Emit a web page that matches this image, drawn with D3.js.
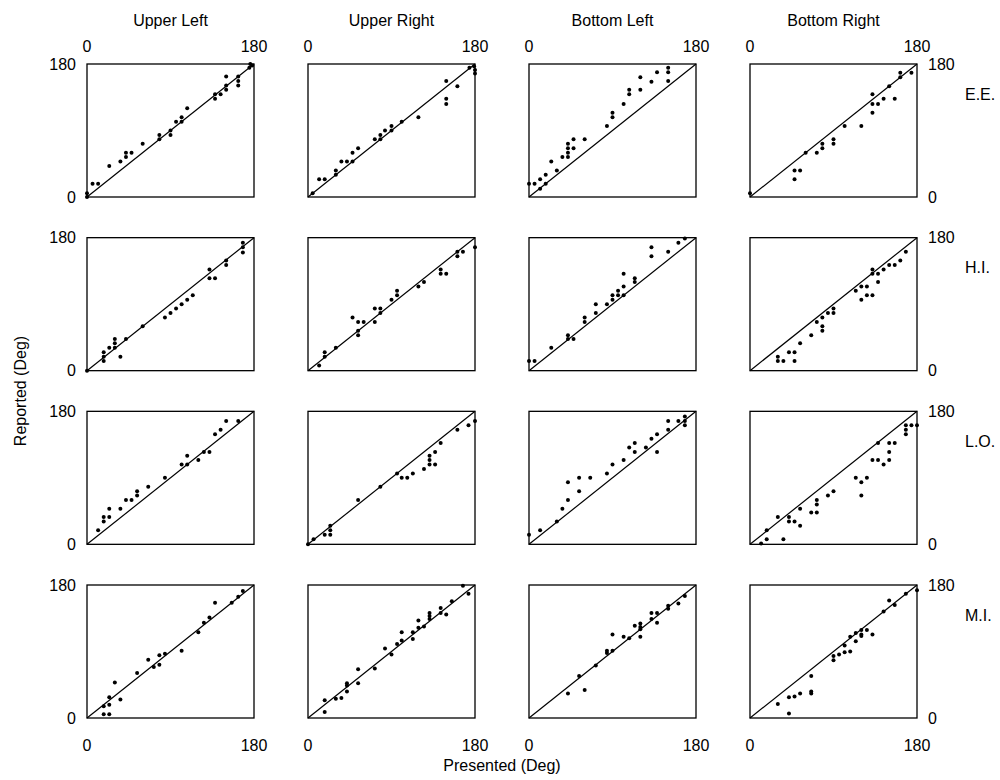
<!DOCTYPE html>
<html>
<head>
<meta charset="utf-8">
<script src="https://cdn.jsdelivr.net/npm/d3@7"></script>
<style>
  body { margin: 0; background: #fff; }
  svg text { font-family: "Liberation Sans", Arial, Helvetica, sans-serif; fill: #000; }
</style>
</head>
<body>
<svg id="chart" width="1000" height="780"></svg>
<script>
const conditions = ["Upper Left", "Upper Right", "Bottom Left", "Bottom Right"];
const subjects = ["E.E.", "H.I.", "L.O.", "M.I."];
const tickValues = [0, 180];

// [presented, reported] in degrees
const EE_UL = [[0,5],[0,0],[6,18],[12,18],[24,42],[36,48],[42,54],[42,60],[48,60],[60,72],[78,78],[78,84],[90,84],[90,90],[96,102],[102,102],[102,108],[108,120],[138,133],[138,139],[144,139],[150,145],[150,151],[150,163],[163,151],[163,157],[163,163],[175,175],[176,180],[178,178]];
const EE_UR = [[5,5],[12,24],[18,24],[30,30],[30,36],[36,48],[42,48],[48,48],[48,60],[54,66],[72,78],[78,78],[78,84],[83,90],[90,90],[90,96],[101,102],[119,108],[149,157],[149,133],[149,126],[161,150],[174,175],[179,177],[180,172],[180,167]];
const EE_BL = [[0,18],[6,18],[12,24],[12,11],[18,30],[18,18],[24,48],[30,36],[36,54],[42,54],[42,60],[42,66],[42,72],[48,66],[48,78],[60,78],[84,96],[90,108],[90,114],[102,126],[108,139],[108,145],[120,145],[120,162],[132,156],[138,169],[150,157],[150,169],[150,175]];
const EE_BR = [[0,5],[48,36],[54,36],[48,24],[60,60],[72,60],[78,66],[78,72],[90,72],[90,78],[102,96],[120,96],[132,114],[132,126],[132,139],[138,126],[144,133],[150,150],[156,133],[162,162],[162,168],[174,168]];

const HI_UL = [[0,0],[18,13],[18,19],[18,25],[24,31],[30,31],[30,37],[30,43],[36,19],[42,43],[60,60],[84,72],[90,78],[96,84],[102,90],[108,96],[114,102],[132,137],[132,125],[138,125],[150,149],[150,143],[168,173],[168,167],[168,160]];
const HI_UR = [[12,7],[18,19],[18,25],[30,31],[48,72],[54,66],[60,66],[54,54],[54,48],[72,66],[72,84],[78,84],[78,78],[90,96],[96,102],[96,108],[119,114],[125,120],[143,137],[143,131],[149,131],[161,161],[161,155],[167,161],[180,167]];
const HI_BL = [[0,13],[6,13],[24,31],[42,48],[42,43],[48,43],[60,66],[60,72],[72,78],[72,90],[84,90],[90,96],[90,102],[96,102],[96,108],[102,102],[102,114],[102,131],[114,125],[114,120],[132,167],[132,155],[150,161],[161,173],[168,179]];
const HI_BR = [[30,19],[30,13],[36,13],[42,25],[48,25],[48,13],[54,37],[66,48],[72,66],[78,72],[78,60],[78,54],[84,78],[90,78],[90,84],[114,108],[120,114],[120,96],[126,114],[126,102],[132,102],[132,131],[132,137],[138,131],[138,120],[144,137],[150,143],[156,143],[162,149],[168,161]];

const LO_UL = [[12,19],[18,31],[18,37],[24,37],[24,48],[36,48],[42,60],[48,60],[54,66],[54,72],[66,78],[84,90],[102,108],[108,108],[108,120],[120,114],[126,125],[132,125],[138,149],[144,155],[150,167],[163,167]];
const LO_UR = [[0,0],[6,7],[18,13],[24,13],[24,19],[24,25],[54,60],[78,78],[96,96],[101,90],[107,90],[113,96],[125,102],[131,108],[131,114],[131,120],[137,125],[137,108],[143,137],[161,155],[173,161],[180,167]];
const LO_BL = [[0,13],[12,19],[30,31],[36,48],[42,60],[42,84],[54,72],[54,90],[66,90],[84,96],[90,108],[102,114],[108,131],[114,137],[114,125],[126,131],[132,143],[138,149],[138,125],[150,167],[150,155],[161,167],[168,167],[168,173],[168,161]];
const LO_BR = [[12,1],[18,7],[18,19],[30,37],[36,7],[42,37],[42,31],[48,31],[54,48],[54,25],[66,43],[72,43],[72,54],[72,60],[84,66],[90,72],[114,90],[120,84],[120,66],[126,90],[132,114],[138,114],[138,137],[144,108],[150,114],[150,125],[150,137],[156,137],[168,161],[168,155],[168,149],[174,161],[180,161]];

const MI_UL = [[18,5],[24,5],[18,16],[24,18],[24,28],[30,48],[36,25],[54,61],[66,79],[72,69],[78,72],[78,85],[84,87],[102,91],[120,116],[126,129],[132,136],[138,156],[156,156],[163,164],[168,172]];
const MI_UR = [[18,24],[18,8],[30,26],[36,27],[42,36],[42,44],[42,47],[54,66],[54,47],[72,67],[83,94],[90,86],[96,100],[101,105],[101,116],[113,107],[113,116],[119,122],[119,132],[125,124],[131,134],[131,138],[131,142],[143,142],[143,149],[149,140],[155,158],[167,179],[173,168]];
const MI_BL = [[42,33],[54,57],[60,38],[72,71],[84,88],[84,91],[90,91],[90,113],[102,110],[108,108],[114,125],[120,128],[120,123],[120,120],[120,110],[132,134],[132,142],[138,142],[138,129],[150,152],[150,148],[161,155],[168,165]];
const MI_BR = [[30,19],[42,28],[42,6],[48,29],[54,33],[66,57],[66,36],[66,33],[90,84],[90,78],[96,86],[102,89],[102,98],[108,90],[108,110],[114,104],[114,115],[120,119],[120,113],[120,111],[126,119],[132,113],[144,144],[150,159],[156,153],[168,168],[180,173]];

const panelData = [
  [EE_UL, EE_UR, EE_BL, EE_BR],
  [HI_UL, HI_UR, HI_BL, HI_BR],
  [LO_UL, LO_UR, LO_BL, LO_BR],
  [MI_UL, MI_UR, MI_BL, MI_BR]
];

const PANEL_W = 167;
const PANEL_H = 133;
const COL_X = d3.scaleLinear().domain([0, 3]).range([87, 750]);
const ROW_Y = d3.scaleLinear().domain([0, 3]).range([64, 585]);
const FONT = 16;

const x = d3.scaleLinear().domain([0, 180]).range([0, PANEL_W]);
const y = d3.scaleLinear().domain([0, 180]).range([PANEL_H, 0]);

const svg = d3.select("#chart");

// column titles
svg.selectAll(".col-title")
  .data(conditions)
  .join("text")
  .attr("class", "col-title")
  .attr("x", (d, i) => COL_X(i) + PANEL_W / 2)
  .attr("y", 20)
  .attr("text-anchor", "middle")
  .attr("dominant-baseline", "central")
  .style("font-size", FONT)
  .text(d => d);

// row labels
svg.selectAll(".row-title")
  .data(subjects)
  .join("text")
  .attr("class", "row-title")
  .attr("x", 965)
  .attr("y", (d, i) => ROW_Y(i) + 30)
  .attr("dominant-baseline", "central")
  .style("font-size", FONT)
  .text(d => d);

panelData.forEach((row, r) => {
  row.forEach((pts, c) => {
    const g = svg.append("g")
      .attr("transform", `translate(${COL_X(c)}, ${ROW_Y(r)})`);

    g.append("rect")
      .attr("width", PANEL_W)
      .attr("height", PANEL_H)
      .attr("fill", "none")
      .attr("stroke", "#000")
      .attr("stroke-width", 1.3);

    g.append("line")
      .attr("x1", x(0)).attr("y1", y(0))
      .attr("x2", x(180)).attr("y2", y(180))
      .attr("stroke", "#000")
      .attr("stroke-width", 1.2);

    g.selectAll("circle")
      .data(pts)
      .join("circle")
      .attr("cx", d => x(d[0]))
      .attr("cy", d => y(d[1]))
      .attr("r", 2)
      .attr("fill", "#000");

    // top tick labels on first row, bottom ones on last row
    if (r === 0 || r === 3) {
      g.selectAll(".xt")
        .data(tickValues)
        .join("text")
        .attr("class", "xt")
        .attr("x", d => x(d))
        .attr("y", r === 0 ? -18 : PANEL_H + 27)
        .attr("text-anchor", "middle")
        .attr("dominant-baseline", "central")
        .style("font-size", FONT)
        .text(d => d);
    }
    if (c === 0 || c === 3) {
      g.selectAll(".yt")
        .data(tickValues)
        .join("text")
        .attr("class", "yt")
        .attr("x", c === 0 ? -11 : PANEL_W + 11)
        .attr("y", d => y(d))
        .attr("text-anchor", c === 0 ? "end" : "start")
        .attr("dominant-baseline", "central")
        .style("font-size", FONT)
        .text(d => d);
    }
  });
});

// axis titles
svg.append("text")
  .attr("x", (COL_X(0) + COL_X(3) + PANEL_W) / 2)
  .attr("y", 765)
  .attr("text-anchor", "middle")
  .attr("dominant-baseline", "central")
  .style("font-size", FONT)
  .text("Presented (Deg)");

svg.append("text")
  .attr("transform", `translate(20, ${(ROW_Y(0) + ROW_Y(3) + PANEL_H) / 2}) rotate(-90)`)
  .attr("text-anchor", "middle")
  .attr("dominant-baseline", "central")
  .style("font-size", FONT)
  .text("Reported (Deg)");
</script>
</body>
</html>
